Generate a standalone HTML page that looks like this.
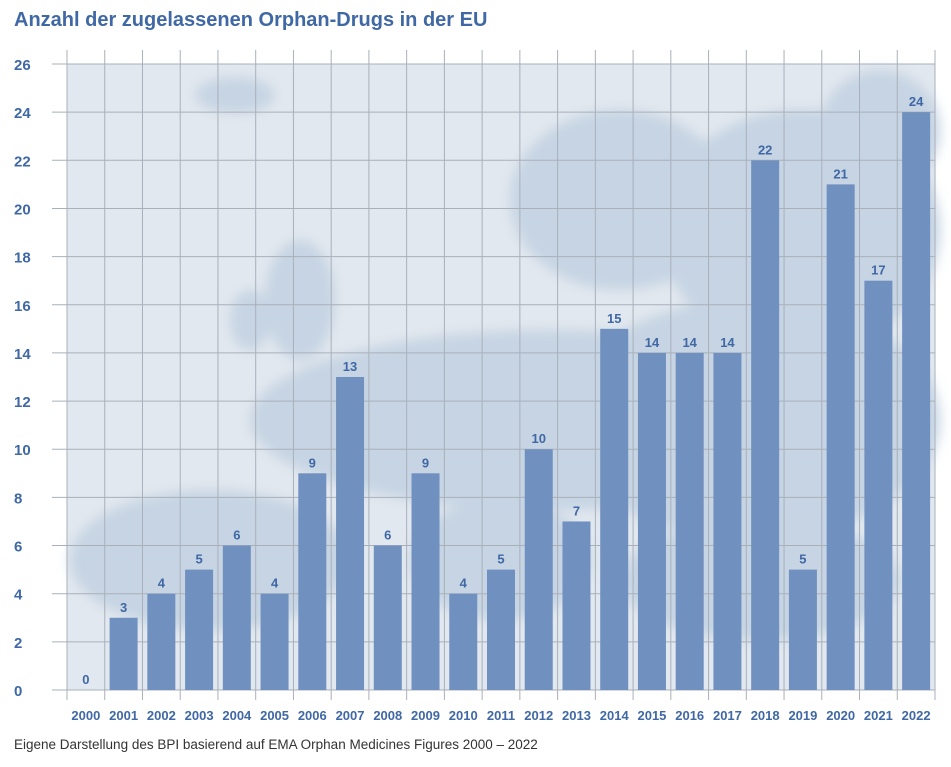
<!DOCTYPE html>
<html><head><meta charset="utf-8"><style>
body{margin:0;background:#fff;width:951px;height:762px;overflow:hidden;font-family:"Liberation Sans",Arial,sans-serif}
</style></head><body>
<svg id="c" width="951" height="762" xmlns="http://www.w3.org/2000/svg">
<defs><filter id="bl"><feGaussianBlur stdDeviation="6"/></filter></defs>
<text x="14" y="26" font-size="20" font-weight="bold" fill="#3f68a5">Anzahl der zugelassenen Orphan-Drugs in der EU</text>
<rect x="67" y="64" width="868" height="626" fill="#e2e8ef"/>
<g id="map" filter="url(#bl)" fill="#c6d4e3">
<ellipse cx="235" cy="95" rx="40" ry="18"/>
<ellipse cx="300" cy="300" rx="35" ry="60"/>
<ellipse cx="250" cy="320" rx="20" ry="30"/>
<ellipse cx="620" cy="200" rx="110" ry="90"/>
<ellipse cx="800" cy="230" rx="140" ry="120"/>
<ellipse cx="550" cy="420" rx="300" ry="90"/>
<ellipse cx="750" cy="420" rx="190" ry="120"/>
<ellipse cx="210" cy="560" rx="140" ry="70"/>
<ellipse cx="500" cy="560" rx="90" ry="60"/>
<ellipse cx="760" cy="580" rx="140" ry="60"/>
<ellipse cx="880" cy="130" rx="60" ry="60"/>
</g>
<g id="grid"></g>
<g id="bars"></g>
<text x="14" y="749" font-size="13.5" fill="#333">Eigene Darstellung des BPI basierend auf EMA Orphan Medicines Figures 2000 – 2022</text>
</svg>
<script>
const years=["2000","2001","2002","2003","2004","2005","2006","2007","2008","2009","2010","2011","2012","2013","2014","2015","2016","2017","2018","2019","2020","2021","2022"];
const counts=[0,3,4,5,6,4,9,13,6,9,4,5,10,7,15,14,14,14,22,5,21,17,24];
const yTicks=[0,2,4,6,8,10,12,14,16,18,20,22,24,26];
const NS="http://www.w3.org/2000/svg";
const x0=67,x1=935,yTop=64,yBot=690,yMax=26;
const colW=(x1-x0)/years.length;
function y(v){return yBot-(v/yMax)*(yBot-yTop);}
function xc(i){return x0+colW*(i+0.5);}
function mk(t,a,p){const e=document.createElementNS(NS,t);for(const k in a)e.setAttribute(k,a[k]);p.appendChild(e);return e;}
const g=document.getElementById('grid'),b=document.getElementById('bars');
yTicks.forEach(v=>{
 const l=mk('line',{x1:52,x2:x1,y1:y(v),y2:y(v),stroke:'#a9b0ba','stroke-width':1},g);
 
 
 const t=mk('text',{x:14,y:y(v)+6,'font-size':15,'font-weight':'bold',fill:'#3f68a5'},g);
 t.textContent=v;
 
 
});
for(let i=0;i<=years.length;i++){
 const xx=x0+colW*i;
 const l=mk('line',{x1:xx,x2:xx,y1:50,y2:700,stroke:'#a9b0ba','stroke-width':1},g);
 
 
}
years.forEach((yr,i)=>{
 const v=counts[i],bw=28;
 const r=mk('rect',{x:xc(i)-bw/2,y:y(v),width:bw,height:yBot-y(v),fill:'#7090bf'},b);
 
 
 const vl=mk('text',{x:xc(i),y:y(v)-6,'font-size':13,'font-weight':'bold',fill:'#3f68a5','text-anchor':'middle'},b);
 vl.textContent=v;
 
 
 const xl=mk('text',{x:xc(i),y:720,'font-size':13,'font-weight':'bold',fill:'#3f68a5','text-anchor':'middle'},b);
 xl.textContent=yr;
 
 
});
</script>
</body></html>
